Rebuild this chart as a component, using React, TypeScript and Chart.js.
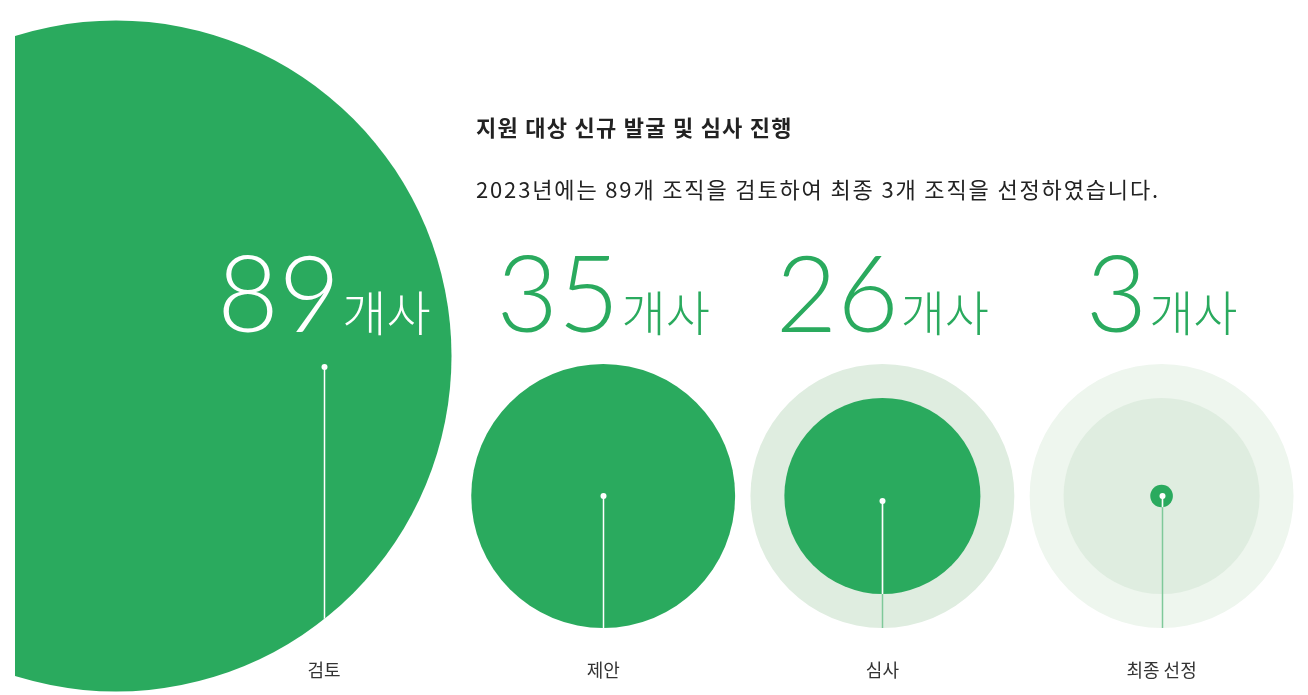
import { useEffect, useRef } from 'react';
import { Chart, registerables } from 'chart.js';

Chart.register(...registerables);

// ---- data ----
const categories = ['검토', '제안', '심사', '최종 선정'];
const counts = [89, 35, 26, 3];
const unitLabel = '개사';
const titleText = '지원 대상 신규 발굴 및 심사 진행';
const subtitleText = '2023년에는 89개 조직을 검토하여 최종 3개 조직을 선정하였습니다.';
// stages that show earlier stages as pale rings behind them
const ringStages = [2, 3];

// ---- styles / layout ----
const GREEN = '#2aaa5e';
const PALE = '#dfede0';
const PALER = '#eef6ee';
const LINE_GREEN = '#7fc99a';
const TEXT = '#222222';
const W = 1308;
const H = 695;
const X_MIN = -1.1067;
const X_MAX = 3.5244;
const Y_MIN = -1.99;
const Y_MAX = 4.96;
const RADIUS_PER_COUNT = 0.0377; // in y-units
const BIG_CENTER = { x: -0.745, y: 1.4 };
const ANCHOR_Y = [1.29, 0, -0.05, 0];
const NUMBER_BASE_Y = 1.645;
const LABEL_Y = -1.74;
const TITLE_POS = { x: 476, y: 136 };
const SUBTITLE_POS = { x: 476, y: 198 };

function radiusFor(ctx: any) {
  const item = ctx.dataset && ctx.dataset.data ? ctx.dataset.data[ctx.dataIndex] : null;
  const ca = ctx.chart.chartArea;
  const perUnit = ca ? ca.height / (Y_MAX - Y_MIN) : H / (Y_MAX - Y_MIN);
  return (item ? item.v : 0) * RADIUS_PER_COUNT * perUnit;
}

const overlayPlugin = {
  id: 'overlay',
  afterDatasetsDraw(chart: any) {
    const ctx: CanvasRenderingContext2D = chart.ctx;
    const xs = chart.scales.x;
    const ys = chart.scales.y;
    const circlesOf = (dsIndices: number[]) => {
      const arr: { x: number; y: number; r: number }[] = [];
      dsIndices.forEach((di) => {
        chart.getDatasetMeta(di).data.forEach((el: any) => {
          arr.push({ x: el.x, y: el.y, r: el.options.radius });
        });
      });
      return arr;
    };
    const darkCircles = circlesOf([0, 1]);
    const paleCircles = circlesOf([2, 3]);
    const clipTo = (circles: { x: number; y: number; r: number }[]) => {
      ctx.beginPath();
      circles.forEach((c) => {
        ctx.moveTo(c.x + c.r, c.y);
        ctx.arc(c.x, c.y, c.r, 0, Math.PI * 2);
      });
      ctx.clip();
    };

    categories.forEach((_, i) => {
      const x = Math.round(xs.getPixelForValue(i)) + 0.5;
      const yTop = ys.getPixelForValue(ANCHOR_Y[i]);
      const yBot = H;
      ctx.save();
      clipTo(paleCircles);
      ctx.strokeStyle = LINE_GREEN;
      ctx.lineWidth = 1.5;
      ctx.beginPath();
      ctx.moveTo(x, yTop);
      ctx.lineTo(x, yBot);
      ctx.stroke();
      ctx.restore();
      ctx.save();
      ctx.beginPath();
      ctx.rect(chart.chartArea.left, 0, W, H);
      ctx.clip();
      clipTo(darkCircles);
      ctx.strokeStyle = '#ffffff';
      ctx.lineWidth = 1.5;
      ctx.beginPath();
      ctx.moveTo(x, yTop);
      ctx.lineTo(x, yBot);
      ctx.stroke();
      ctx.restore();
      ctx.save();
      ctx.fillStyle = '#ffffff';
      ctx.beginPath();
      ctx.arc(x, yTop, 3, 0, Math.PI * 2);
      ctx.fill();
      ctx.restore();
    });

    // numbers
    const numFont = '300 106px Lato, "Noto Sans", sans-serif';
    const unitFont = '300 48px "Noto Sans CJK KR", sans-serif';
    categories.forEach((_, i) => {
      const cx = xs.getPixelForValue(i);
      const base = ys.getPixelForValue(NUMBER_BASE_Y);
      const numStr = String(counts[i]);
      ctx.save();
      ctx.textBaseline = 'alphabetic';
      ctx.textAlign = 'left';
      ctx.font = numFont;
      const wN = ctx.measureText(numStr).width;
      ctx.font = unitFont;
      const wU = ctx.measureText(unitLabel).width;
      const gap = 2;
      const start = cx - (wN + gap + wU) / 2;
      ctx.fillStyle = i === 0 ? '#ffffff' : GREEN;
      ctx.font = numFont;
      ctx.fillText(numStr, start, base);
      ctx.font = unitFont;
      ctx.fillText(unitLabel, start + wN + gap, base - 1);
      ctx.restore();
    });

    // category labels
    categories.forEach((c, i) => {
      ctx.save();
      ctx.font = '400 18px "Noto Sans CJK KR", sans-serif';
      ctx.fillStyle = '#333333';
      ctx.textAlign = 'center';
      ctx.textBaseline = 'middle';
      ctx.fillText(c, xs.getPixelForValue(i), ys.getPixelForValue(LABEL_Y));
      ctx.restore();
    });

    // title & subtitle
    ctx.save();
    ctx.textAlign = 'left';
    ctx.textBaseline = 'alphabetic';
    ctx.fillStyle = TEXT;
    (ctx as any).letterSpacing = '1.25px';
    ctx.font = '700 22px "Noto Sans CJK KR", sans-serif';
    ctx.fillText(titleText, TITLE_POS.x, TITLE_POS.y);
    (ctx as any).letterSpacing = '1.85px';
    ctx.font = '400 22px "Noto Sans CJK KR", sans-serif';
    ctx.fillText(subtitleText, SUBTITLE_POS.x, SUBTITLE_POS.y);
    ctx.restore();
  },
};

export default function App() {
  const ref = useRef<HTMLCanvasElement>(null);
  useEffect(() => {
    if (!ref.current) return;
    const big = [{ x: BIG_CENTER.x, y: BIG_CENTER.y, v: counts[0] }];
    const main = counts.slice(1).map((v, k) => ({ x: k + 1, y: 0, v }));
    const ring1 = ringStages.map((s) => ({ x: s, y: 0, v: counts[s - 1] }));
    const ring2 = ringStages.filter((s) => s - 2 >= 1).map((s) => ({ x: s, y: 0, v: counts[s - 2] }));
    const chart = new Chart(ref.current, {
      type: 'bubble',
      data: {
        datasets: [
          { label: categories[0], data: big, backgroundColor: GREEN, borderWidth: 0, radius: radiusFor, order: 0, clip: { left: 0, top: false, right: false, bottom: false } },
          { label: 'stages', data: main, backgroundColor: GREEN, borderWidth: 0, radius: radiusFor, order: 1, clip: false },
          { label: 'previous stage', data: ring1, backgroundColor: PALE, borderWidth: 0, radius: radiusFor, order: 2, clip: false },
          { label: 'two stages back', data: ring2, backgroundColor: PALER, borderWidth: 0, radius: radiusFor, order: 3, clip: false },
        ] as any,
      },
      options: {
        animation: false,
        responsive: false,
        events: [],
        layout: { autoPadding: false, padding: { left: 15, right: 0, top: 0, bottom: 0 } },
        scales: {
          x: { type: 'linear', display: false, min: X_MIN, max: X_MAX },
          y: { type: 'linear', display: false, min: Y_MIN, max: Y_MAX },
        },
        plugins: { legend: { display: false }, tooltip: { enabled: false }, title: { display: false } },
      } as any,
      plugins: [overlayPlugin],
    });
    return () => chart.destroy();
  }, []);
  return (
    <div style={{ position: 'fixed', left: 0, top: 0, width: W, height: H, background: '#ffffff' }}>
      <canvas ref={ref} width={W} height={H} style={{ display: 'block' }} />
    </div>
  );
}
